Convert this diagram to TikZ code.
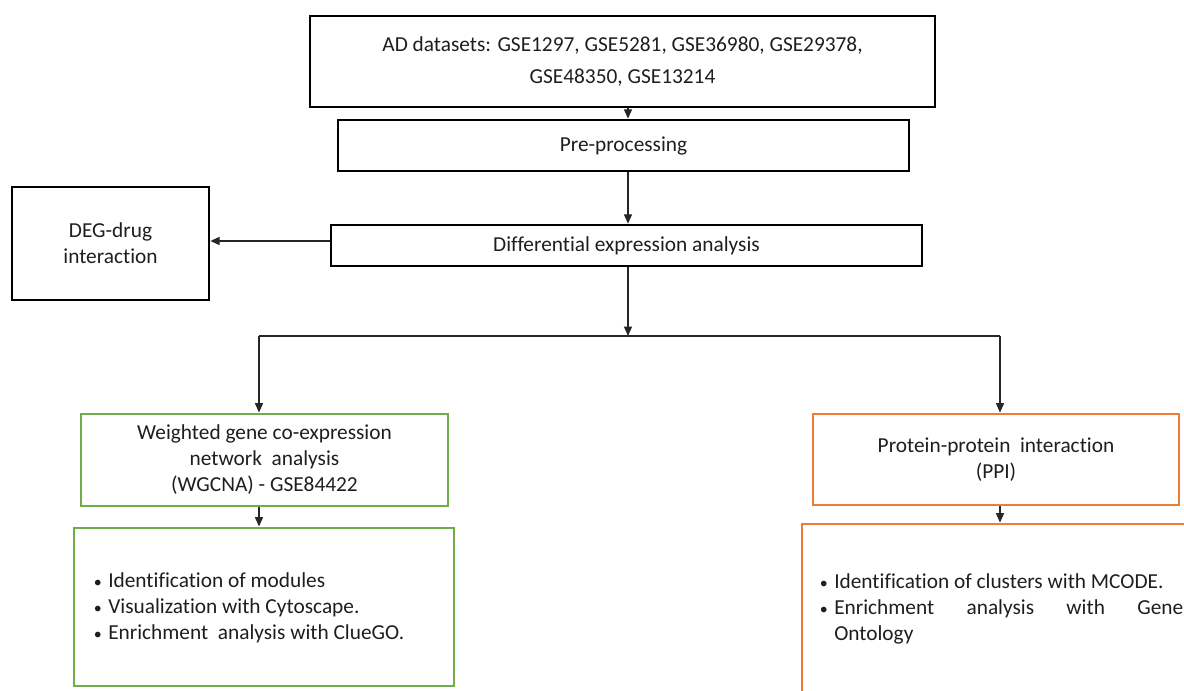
\documentclass[tikz,border=0pt]{standalone}
\usepackage{fontspec}
\setmainfont{Carlito}[Ligatures={NoCommon}]
\usetikzlibrary{arrows.meta}
\definecolor{wgreen}{HTML}{70AD47}
\definecolor{porange}{HTML}{ED7D31}
\definecolor{txt}{HTML}{1E1E1E}
\newcommand\bul{\makebox[11.25pt][l]{\hspace{0.5pt}\raisebox{0.3pt}{\fontsize{12}{12}\selectfont •}}}
\begin{document}
\begin{tikzpicture}[x=0.75pt,y=-0.75pt,
  every node/.style={font=\fontsize{16}{19.5}\selectfont, text=txt},
  bbox/.style={draw=black, line width=2pt, inner sep=0pt, align=center},
  gbox/.style={draw=wgreen, line width=2.2pt, inner sep=0pt, align=center},
  obox/.style={draw=porange, line width=2.2pt, inner sep=0pt, align=center},
  conn/.style={line width=1pt, draw=black!85},
  arr/.style={conn, -{Triangle[width=6pt,length=7pt]}}]
\useasboundingbox (0,0) rectangle (1184,691);
\clip (0,0) rectangle (1184,691);
\node[bbox, minimum width={625*0.75pt}, minimum height={91*0.75pt}] (top) at (622.5,61.5)
  {AD datasets: GSE1297, GSE5281, GSE36980, GSE29378,\\[4pt]GSE48350, GSE13214};
\node[bbox, minimum width={571*0.75pt}, minimum height={51*0.75pt}] (pre) at (623.5,145.5) {Pre-processing};
\node[bbox, minimum width={591*0.75pt}, minimum height={41*0.75pt}] (diff) at (626.5,245.5) {Differential expression analysis};
\node[bbox, minimum width={197*0.75pt}, minimum height={113*0.75pt}] (deg) at (110.5,243.5) {DEG-drug\\interaction};
\node[gbox, minimum width={367*0.75pt}, minimum height={92*0.75pt}] (wg) at (264.5,460)
  {Weighted gene co-expression\\network\ \ analysis\\(WGCNA) - GSE84422};
\node[gbox, minimum width={380*0.75pt}, minimum height={158*0.75pt}] (wgl) at (264,607) {};
\node[anchor=west, align=left, inner sep=0pt] (wgt) at (93,608)
  {\bul Identification of modules\\
   \bul Visualization with Cytoscape.\\
   \bul Enrichment\ \ analysis with ClueGO.};
\node[obox, minimum width={366*0.75pt}, minimum height={91*0.75pt}] (ppi) at (996,459.5)
  {Protein-protein\ \ interaction\\(PPI)};
\node[obox, minimum width={392*0.75pt}, minimum height={180*0.75pt}] (ppil) at (998,614) {};
\node[anchor=west, align=left, inner sep=0pt] (ppit) at (819,609)
  {\bul Identification of clusters with MCODE.\\
   \bul\makebox[261.75pt][s]{Enrichment\hfill analysis\hfill with\hfill Gene}\\
   \hspace*{11.25pt}Ontology};
\coordinate (cx) at (628,0);
\coordinate (j) at (628,336);
\coordinate (jl) at (259,336);
\coordinate (jr) at (1000,336);
\coordinate (dy) at (0,241);
\draw[arr] (top.south -| cx) -- (pre.north -| cx);
\draw[arr] (pre.south -| cx) -- (diff.north -| cx);
\draw[arr] (diff.south -| cx) -- (j);
\draw[conn] (jl) -- (jr);
\draw[arr] (jl) -- (wg.north -| jl);
\draw[arr] (jr) -- (ppi.north -| jr);
\draw[arr] (wg.south -| jl) -- (wgl.north -| jl);
\draw[arr] (ppi.south -| jr) -- (ppil.north -| jr);
\draw[arr] (diff.west |- dy) -- (deg.east |- dy);
\end{tikzpicture}
\end{document}
